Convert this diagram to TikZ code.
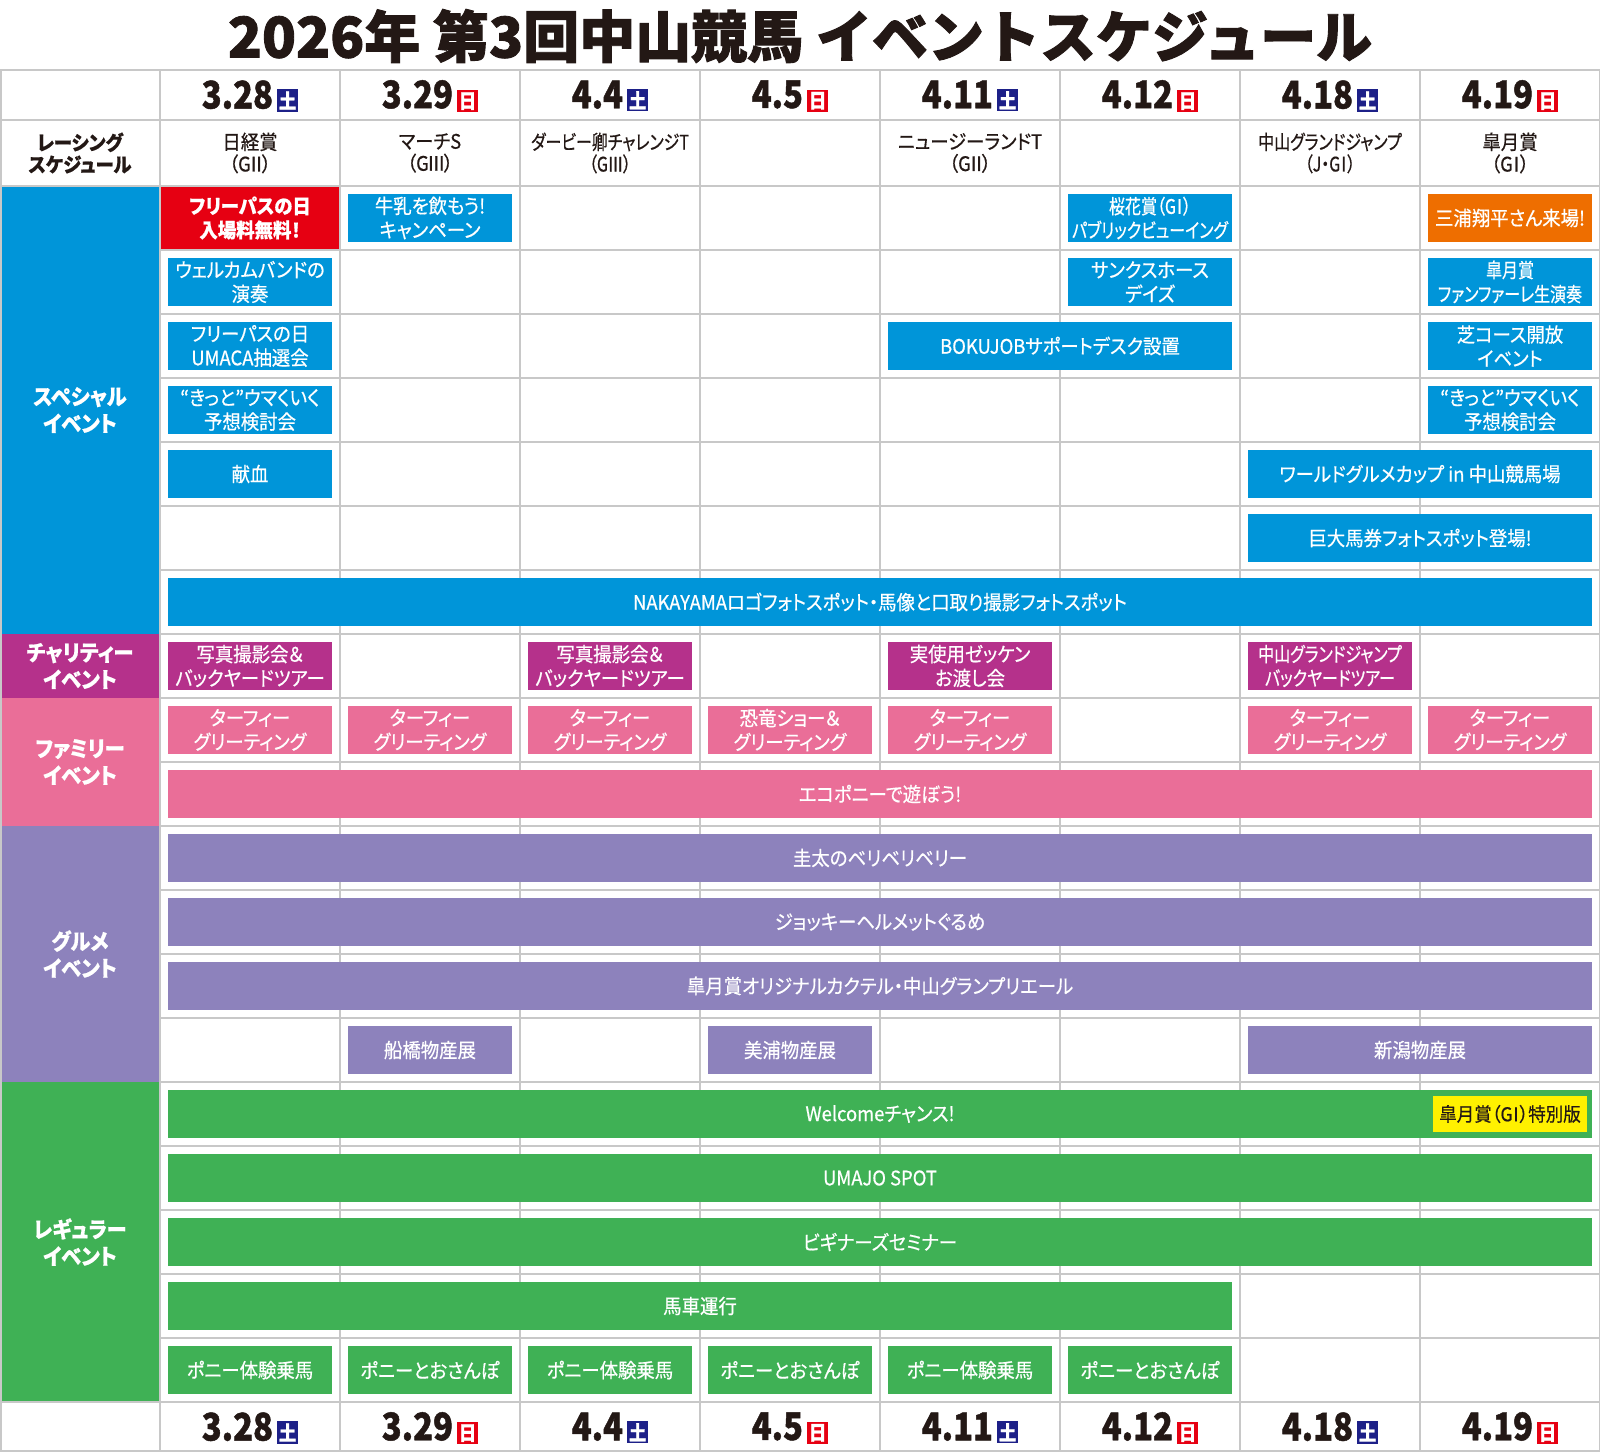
\documentclass[tikz,border=0pt]{standalone}
\usepackage{fontspec}
\newfontfamily\jp[FakeStretch=0.92,FakeBold=0.6,RawFeature=+palt]{Noto Sans CJK JP}
\newfontfamily\jpn[FakeStretch=0.8,FakeBold=0.6,RawFeature=+palt]{Noto Sans CJK JP}
\newfontfamily\jptitle[BoldFeatures={FakeBold=1.6}]{Noto Sans CJK JP}
\newfontfamily\jpdate[FakeStretch=0.86,BoldFeatures={FakeBold=1.2}]{Noto Sans CJK JP}
\definecolor{spblue}{HTML}{0095D9}
\definecolor{freered}{HTML}{E60012}
\definecolor{miuraorange}{HTML}{EE6E00}
\definecolor{chmagenta}{HTML}{B5318B}
\definecolor{fapink}{HTML}{EA6E98}
\definecolor{gupurple}{HTML}{8D82BC}
\definecolor{regreen}{HTML}{3FB155}
\definecolor{yellowtag}{HTML}{FFF100}
\definecolor{satnavy}{HTML}{1D2088}
\definecolor{sunred}{HTML}{E60012}
\definecolor{gridgray}{HTML}{C8C8C8}
\definecolor{titleink}{HTML}{231815}
\newcommand{\dsat}{\raisebox{0pt}{\setlength{\fboxsep}{2pt}\colorbox{satnavy}{\fontsize{20}{20}\selectfont\textcolor{white}{土}}}}
\newcommand{\dsun}{\raisebox{0pt}{\setlength{\fboxsep}{2pt}\colorbox{sunred}{\fontsize{20}{20}\selectfont\textcolor{white}{日}}}}
\newcommand{\gradeI}{G\makebox[7pt]{Ⅰ}}
\newcommand{\gradeII}{G\makebox[11pt]{Ⅱ}}
\newcommand{\gradeIII}{G\makebox[15pt]{Ⅲ}}
\begin{document}
\begin{tikzpicture}[x=1pt,y=-1pt,
    gridline/.style={draw=gridgray,line width=1.5pt},
    ev/.style={shape=rectangle,minimum width=#1,minimum height=48,inner sep=0pt,align=center,text=white,font=\jp\fontsize{20}{24}\selectfont},
    sp/.style={ev=#1,fill=spblue},
    ch/.style={ev=#1,fill=chmagenta},
    fa/.style={ev=#1,fill=fapink},
    gu/.style={ev=#1,fill=gupurple},
    re/.style={ev=#1,fill=regreen},
    narrow/.style={font=\jpn\fontsize{20}{24}\selectfont},
    cat/.style={shape=rectangle,minimum width=160,inner sep=0pt,align=center,text=white,font=\jp\bfseries\fontsize{22}{27}\selectfont},
    race/.style={align=center,inner sep=0pt,text=titleink,font=\jp\fontsize{20}{22}\selectfont},
    datelbl/.style={inner sep=0pt,text=titleink,font=\jpdate\bfseries\fontsize{38}{38}\selectfont}]
    \useasboundingbox (0,0) rectangle (1600,1452);
    % title
    \node[text=titleink,font=\jptitle\bfseries\fontsize{56}{56}\selectfont] (title) at (800,36) {2026年 第3回中山競馬 イベントスケジュール};
    % left column
    \node[cat,fill=spblue,minimum height=448] (spcat) at (80,410) {スペシャル\\イベント};
    \node[cat,fill=chmagenta,minimum height=64] (chcat) at (80,666) {チャリティー\\イベント};
    \node[cat,fill=fapink,minimum height=128] (facat) at (80,762) {ファミリー\\イベント};
    \node[cat,fill=gupurple,minimum height=256] (gucat) at (80,954) {グルメ\\イベント};
    \node[cat,fill=regreen,minimum height=320] (recat) at (80,1242) {レギュラー\\イベント};
    \node[ev=180,minimum height=64,fill=freered,font=\jp\bfseries\fontsize{20}{24}\selectfont] (s1c1) at (250,218) {フリーパスの日\\入場料無料！};
    % grid
    \draw[gridline] (0,70) -- (1600,70);
    \draw[gridline] (0,120) -- (1600,120);
    \draw[gridline] (0,186) -- (1600,186);
    \draw[gridline] (160,250) -- (1600,250);
    \draw[gridline] (160,314) -- (1600,314);
    \draw[gridline] (160,378) -- (1600,378);
    \draw[gridline] (160,442) -- (1600,442);
    \draw[gridline] (160,506) -- (1600,506);
    \draw[gridline] (160,570) -- (1600,570);
    \draw[gridline] (160,634) -- (1600,634);
    \draw[gridline] (160,698) -- (1600,698);
    \draw[gridline] (160,762) -- (1600,762);
    \draw[gridline] (160,826) -- (1600,826);
    \draw[gridline] (160,890) -- (1600,890);
    \draw[gridline] (160,954) -- (1600,954);
    \draw[gridline] (160,1018) -- (1600,1018);
    \draw[gridline] (160,1082) -- (1600,1082);
    \draw[gridline] (160,1146) -- (1600,1146);
    \draw[gridline] (160,1210) -- (1600,1210);
    \draw[gridline] (160,1274) -- (1600,1274);
    \draw[gridline] (160,1338) -- (1600,1338);
    \draw[gridline] (0,1402) -- (1600,1402);
    \draw[gridline] (0,1451) -- (1600,1451);
    \draw[gridline] (0.75,70) -- (0.75,1452);
    \draw[gridline] (160,70) -- (160,1452);
    \draw[gridline] (340,70) -- (340,1452);
    \draw[gridline] (520,70) -- (520,1452);
    \draw[gridline] (700,70) -- (700,1452);
    \draw[gridline] (880,70) -- (880,1452);
    \draw[gridline] (1060,70) -- (1060,1452);
    \draw[gridline] (1240,70) -- (1240,1452);
    \draw[gridline] (1420,70) -- (1420,1452);
    \draw[gridline] (1599.25,70) -- (1599.25,1452);
    % dates
    \node[datelbl] (d1) at (250,96) {3.28\hspace{4pt}\dsat};
    \node[datelbl] (d2) at (430,96) {3.29\hspace{4pt}\dsun};
    \node[datelbl] (d3) at (610,96) {4.4\hspace{4pt}\dsat};
    \node[datelbl] (d4) at (790,96) {4.5\hspace{4pt}\dsun};
    \node[datelbl] (d5) at (970,96) {4.11\hspace{4pt}\dsat};
    \node[datelbl] (d6) at (1150,96) {4.12\hspace{4pt}\dsun};
    \node[datelbl] (d7) at (1330,96) {4.18\hspace{4pt}\dsat};
    \node[datelbl] (d8) at (1510,96) {4.19\hspace{4pt}\dsun};
    \node[datelbl] (e1) at (250,1428) {3.28\hspace{4pt}\dsat};
    \node[datelbl] (e2) at (430,1428) {3.29\hspace{4pt}\dsun};
    \node[datelbl] (e3) at (610,1428) {4.4\hspace{4pt}\dsat};
    \node[datelbl] (e4) at (790,1428) {4.5\hspace{4pt}\dsun};
    \node[datelbl] (e5) at (970,1428) {4.11\hspace{4pt}\dsat};
    \node[datelbl] (e6) at (1150,1428) {4.12\hspace{4pt}\dsun};
    \node[datelbl] (e7) at (1330,1428) {4.18\hspace{4pt}\dsat};
    \node[datelbl] (e8) at (1510,1428) {4.19\hspace{4pt}\dsun};
    % racing schedule
    \node[race,font=\jp\bfseries\fontsize{20}{22}\selectfont] (rlbl) at (80,153) {レーシング\\スケジュール};
    \node[race] (rc1) at (250,153) {日経賞\\（\gradeII）};
    \node[race] (rc2) at (430,153) {マーチS\\（\gradeIII）};
    \node[race,font=\jpn\fontsize{20}{22}\selectfont] (rc3) at (610,153) {ダービー卿チャレンジT\\（\gradeIII）};
    \node[race] (rc5) at (970,153) {ニュージーランドT\\（\gradeII）};
    \node[race,font=\jpn\fontsize{20}{22}\selectfont] (rc7) at (1330,153) {中山グランドジャンプ\\（J・\gradeI）};
    \node[race] (rc8) at (1510,153) {皐月賞\\（\gradeI）};
    % special
    \node[sp=164] (s1c2) at (430,218) {牛乳を飲もう!\\キャンペーン};
    \node[sp=164,narrow] (s1c6) at (1150,218) {桜花賞（\gradeI）\\パブリックビューイング};
    \node[ev=164,fill=miuraorange] (s1c8) at (1510,218) {三浦翔平さん来場!};
    \node[sp=164] (s2c1) at (250,282) {ウェルカムバンドの\\演奏};
    \node[sp=164] (s2c6) at (1150,282) {サンクスホース\\デイズ};
    \node[sp=164,narrow] (s2c8) at (1510,282) {皐月賞\\ファンファーレ生演奏};
    \node[sp=164] (s3c1) at (250,346) {フリーパスの日\\UMACA抽選会};
    \node[sp=344] (s3c5) at (1060,346) {BOKUJOBサポートデスク設置};
    \node[sp=164] (s3c8) at (1510,346) {芝コース開放\\イベント};
    \node[sp=164] (s4c1) at (250,410) {“きっと”ウマくいく\\予想検討会};
    \node[sp=164] (s4c8) at (1510,410) {“きっと”ウマくいく\\予想検討会};
    \node[sp=164] (s5c1) at (250,474) {献血};
    \node[sp=344] (s5c7) at (1420,474) {ワールドグルメカップ in 中山競馬場};
    \node[sp=344] (s6c7) at (1420,538) {巨大馬券フォトスポット登場!};
    \node[sp=1424] (s7c1) at (880,602) {NAKAYAMAロゴフォトスポット・馬像と口取り撮影フォトスポット};
    % charity
    \node[ch=164] (chc1) at (250,666) {写真撮影会＆\\バックヤードツアー};
    \node[ch=164] (chc3) at (610,666) {写真撮影会＆\\バックヤードツアー};
    \node[ch=164] (chc5) at (970,666) {実使用ゼッケン\\お渡し会};
    \node[ch=164,narrow] (chc7) at (1330,666) {中山グランドジャンプ\\バックヤードツアー};
    % family
    \node[fa=164] (f1c1) at (250,730) {ターフィー\\グリーティング};
    \node[fa=164] (f1c2) at (430,730) {ターフィー\\グリーティング};
    \node[fa=164] (f1c3) at (610,730) {ターフィー\\グリーティング};
    \node[fa=164] (f1c4) at (790,730) {恐竜ショー＆\\グリーティング};
    \node[fa=164] (f1c5) at (970,730) {ターフィー\\グリーティング};
    \node[fa=164] (f1c7) at (1330,730) {ターフィー\\グリーティング};
    \node[fa=164] (f1c8) at (1510,730) {ターフィー\\グリーティング};
    \node[fa=1424] (f2c1) at (880,794) {エコポニーで遊ぼう!};
    % gourmet
    \node[gu=1424] (g1c1) at (880,858) {圭太のベリベリベリー};
    \node[gu=1424] (g2c1) at (880,922) {ジョッキーヘルメットぐるめ};
    \node[gu=1424] (g3c1) at (880,986) {皐月賞オリジナルカクテル・中山グランプリエール};
    \node[gu=164] (g4c2) at (430,1050) {船橋物産展};
    \node[gu=164] (g4c4) at (790,1050) {美浦物産展};
    \node[gu=344] (g4c7) at (1420,1050) {新潟物産展};
    % regular
    \node[re=1424] (r1c1) at (880,1114) {Welcomeチャンス!};
    \node[ev=154,minimum height=36,fill=yellowtag,text=titleink,font=\jp\fontsize{19}{19}\selectfont] (r1tag) at (1510,1114) {皐月賞（\gradeI）特別版};
    \node[re=1424] (r2c1) at (880,1178) {UMAJO SPOT};
    \node[re=1424] (r3c1) at (880,1242) {ビギナーズセミナー};
    \node[re=1064] (r4c1) at (700,1306) {馬車運行};
    \node[re=164] (r5c1) at (250,1370) {ポニー体験乗馬};
    \node[re=164] (r5c2) at (430,1370) {ポニーとおさんぽ};
    \node[re=164] (r5c3) at (610,1370) {ポニー体験乗馬};
    \node[re=164] (r5c4) at (790,1370) {ポニーとおさんぽ};
    \node[re=164] (r5c5) at (970,1370) {ポニー体験乗馬};
    \node[re=164] (r5c6) at (1150,1370) {ポニーとおさんぽ};
\end{tikzpicture}
\end{document}
